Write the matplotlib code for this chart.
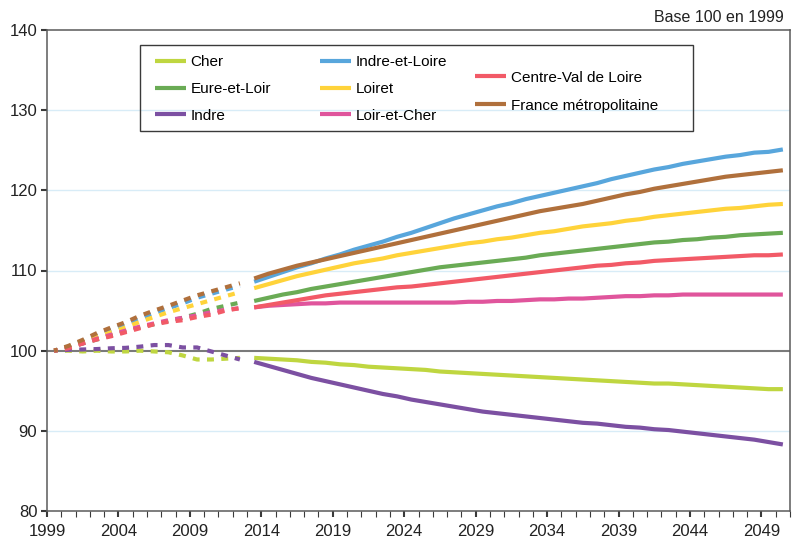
import matplotlib.pyplot as plt
from matplotlib.patches import Rectangle

plt.rcParams['font.family'] = ['Liberation Sans', 'DejaVu Sans']
plt.rcParams['font.size'] = 12
plt.rcParams['lines.scale_dashes'] = False

# observed years (dashed) and projection years (solid)
hist_years = list(range(1999, 2013))
proj_years = list(range(2013, 2051))

names = ['Cher', 'Eure-et-Loir', 'Indre', 'Indre-et-Loire', 'Loiret',
         'Loir-et-Cher', 'Centre-Val de Loire', 'France métropolitaine']
colors = ['#bfd640', '#6aab55', '#7c50a2', '#58a6dc', '#ffd33a',
          '#e0559c', '#f25a67', '#b0703c']

cher_hist = [100, 100.0, 99.9, 100.0, 99.9, 99.9, 100.0, 99.9, 99.8, 99.4, 98.9, 98.9, 99.0, 99.1]
eure_hist = [100, 100.4, 100.9, 101.4, 101.9, 102.4, 102.9, 103.3, 103.7, 104.1, 104.6, 105.2, 105.6, 106.0]
indre_hist = [100, 100.1, 100.15, 100.2, 100.3, 100.35, 100.5, 100.7, 100.7, 100.4, 100.4, 99.9, 99.4, 98.9]
il_hist = [100, 100.5, 101.2, 101.9, 102.6, 103.3, 104.0, 104.7, 105.3, 105.9, 106.6, 107.1, 107.6, 108.1]
loiret_hist = [100, 100.5, 101.1, 101.7, 102.3, 102.9, 103.6, 104.2, 104.8, 105.3, 105.8, 106.3, 106.8, 107.3]
lc_hist = [100, 100.4, 100.9, 101.5, 102.0, 102.5, 103.0, 103.4, 103.8, 104.1, 104.4, 104.8, 105.1, 105.3]
cvl_hist = [100, 100.3, 100.9, 101.4, 101.8, 102.3, 102.8, 103.3, 103.6, 103.8, 104.2, 104.5, 105.0, 105.3]
fr_hist = [100, 100.6, 101.35, 102.2, 102.9, 103.55, 104.35, 105.0, 105.6, 106.25, 106.9, 107.4, 107.9, 108.4]

cher_proj = [99.1, 99.0, 98.9, 98.8, 98.6, 98.5, 98.3, 98.2, 98.0, 97.9,
             97.8, 97.7, 97.6, 97.4, 97.3, 97.2, 97.1, 97.0, 96.9, 96.8,
             96.7, 96.6, 96.5, 96.4, 96.3, 96.2, 96.1, 96.0, 95.9, 95.9,
             95.8, 95.7, 95.6, 95.5, 95.4, 95.3, 95.2, 95.2]
eure_proj = [106.2, 106.6, 107.0, 107.3, 107.7, 108.0, 108.3, 108.6, 108.9, 109.2,
             109.5, 109.8, 110.1, 110.4, 110.6, 110.8, 111.0, 111.2, 111.4, 111.6,
             111.9, 112.1, 112.3, 112.5, 112.7, 112.9, 113.1, 113.3, 113.5, 113.6,
             113.8, 113.9, 114.1, 114.2, 114.4, 114.5, 114.6, 114.7]
indre_proj = [98.6, 98.1, 97.6, 97.1, 96.6, 96.2, 95.8, 95.4, 95.0, 94.6,
              94.3, 93.9, 93.6, 93.3, 93.0, 92.7, 92.4, 92.2, 92.0, 91.8,
              91.6, 91.4, 91.2, 91.0, 90.9, 90.7, 90.5, 90.4, 90.2, 90.1,
              89.9, 89.7, 89.5, 89.3, 89.1, 88.9, 88.6, 88.3]
il_proj = [108.6, 109.2, 109.8, 110.4, 110.9, 111.5, 112.0, 112.6, 113.1, 113.6,
           114.2, 114.7, 115.3, 115.9, 116.5, 117.0, 117.5, 118.0, 118.4, 118.9,
           119.3, 119.7, 120.1, 120.5, 120.9, 121.4, 121.8, 122.2, 122.6, 122.9,
           123.3, 123.6, 123.9, 124.2, 124.4, 124.7, 124.8, 125.1]
loiret_proj = [107.8, 108.3, 108.8, 109.3, 109.7, 110.1, 110.5, 110.9, 111.2, 111.5,
               111.9, 112.2, 112.5, 112.8, 113.1, 113.4, 113.6, 113.9, 114.1, 114.4,
               114.7, 114.9, 115.2, 115.5, 115.7, 115.9, 116.2, 116.4, 116.7, 116.9,
               117.1, 117.3, 117.5, 117.7, 117.8, 118.0, 118.2, 118.3]
lc_proj = [105.4, 105.6, 105.7, 105.8, 105.9, 105.9, 106.0, 106.0, 106.0, 106.0,
           106.0, 106.0, 106.0, 106.0, 106.0, 106.1, 106.1, 106.2, 106.2, 106.3,
           106.4, 106.4, 106.5, 106.5, 106.6, 106.7, 106.8, 106.8, 106.9, 106.9,
           107.0, 107.0, 107.0, 107.0, 107.0, 107.0, 107.0, 107.0]
cvl_proj = [105.4, 105.7, 106.0, 106.3, 106.6, 106.9, 107.1, 107.3, 107.5, 107.7,
            107.9, 108.0, 108.2, 108.4, 108.6, 108.8, 109.0, 109.2, 109.4, 109.6,
            109.8, 110.0, 110.2, 110.4, 110.6, 110.7, 110.9, 111.0, 111.2, 111.3,
            111.4, 111.5, 111.6, 111.7, 111.8, 111.9, 111.9, 112.0]
fr_proj = [109.0, 109.6, 110.1, 110.6, 111.0, 111.4, 111.8, 112.2, 112.6, 113.0,
           113.4, 113.8, 114.2, 114.6, 115.0, 115.4, 115.8, 116.2, 116.6, 117.0,
           117.4, 117.7, 118.0, 118.3, 118.7, 119.1, 119.5, 119.8, 120.2, 120.5,
           120.8, 121.1, 121.4, 121.7, 121.9, 122.1, 122.3, 122.5]

hist = [cher_hist, eure_hist, indre_hist, il_hist, loiret_hist, lc_hist, cvl_hist, fr_hist]
proj = [cher_proj, eure_proj, indre_proj, il_proj, loiret_proj, lc_proj, cvl_proj, fr_proj]

fig = plt.figure(figsize=(7.92, 5.37), dpi=100)
ax = fig.add_axes([47 / 792, 26 / 537, 743 / 792, 481 / 537])

# points sit in the middle of each year slot
hx = [y + 0.5 for y in hist_years]
px = [y + 0.5 for y in proj_years]

handles = []
for name, col, h, p in zip(names, colors, hist, proj):
    ax.plot(hx, h, color=col, lw=3, linestyle=(2.5, (5, 5.3)), zorder=3)
    ln, = ax.plot(px, p, color=col, lw=3, solid_capstyle='butt', label=name, zorder=3)
    handles.append(ln)

ax.set_xlim(1999, 2051)
ax.set_ylim(80, 140)
ax.set_yticks(range(80, 141, 10))
ax.set_xticks(range(1999, 2050, 5))
ax.set_xticks(range(1999, 2052), minor=True)

for v in [90, 110, 120, 130]:
    ax.axhline(v, color='#d8ecf7', lw=1, zorder=1)
ax.axhline(100, color='#7a7a7a', lw=1.5, zorder=2)

for s in ax.spines.values():
    s.set_color('#5a5a5a')
    s.set_linewidth(1.1)
ax.tick_params(axis='both', which='major', direction='out', length=4, width=1.5,
               color='#3a3a3a', labelcolor='#222222')
ax.tick_params(axis='x', which='minor', direction='out', length=4, width=0.8, color='#3a3a3a')
ax.tick_params(axis='x', pad=5)
ax.tick_params(axis='y', pad=3)

fig.text(784 / 792, 1 - 17 / 537, 'Base 100 en 1999', ha='right', va='center',
         color='#222222', fontsize=11.5)

# legend frame
fig.add_artist(Rectangle((140 / 792, 1 - 131 / 537), 553 / 792, 86 / 537,
                         transform=fig.transFigure, fill=False,
                         edgecolor='#3a3a3a', lw=1, zorder=5))

leg_kw = dict(loc='upper left', frameon=False, borderpad=0, borderaxespad=0,
              handlelength=2.0, handletextpad=0.33, fontsize=11)
fig.legend(handles[:6], names[:6], ncol=2, columnspacing=3.2, labelspacing=0.82,
           bbox_to_anchor=(155 / 792, 1 - 55.5 / 537), **leg_kw)
fig.legend(handles[6:], names[6:], ncol=1, labelspacing=0.92,
           bbox_to_anchor=(475 / 792, 1 - 70.5 / 537), **leg_kw)

fig.savefig('out.png', dpi=100)
